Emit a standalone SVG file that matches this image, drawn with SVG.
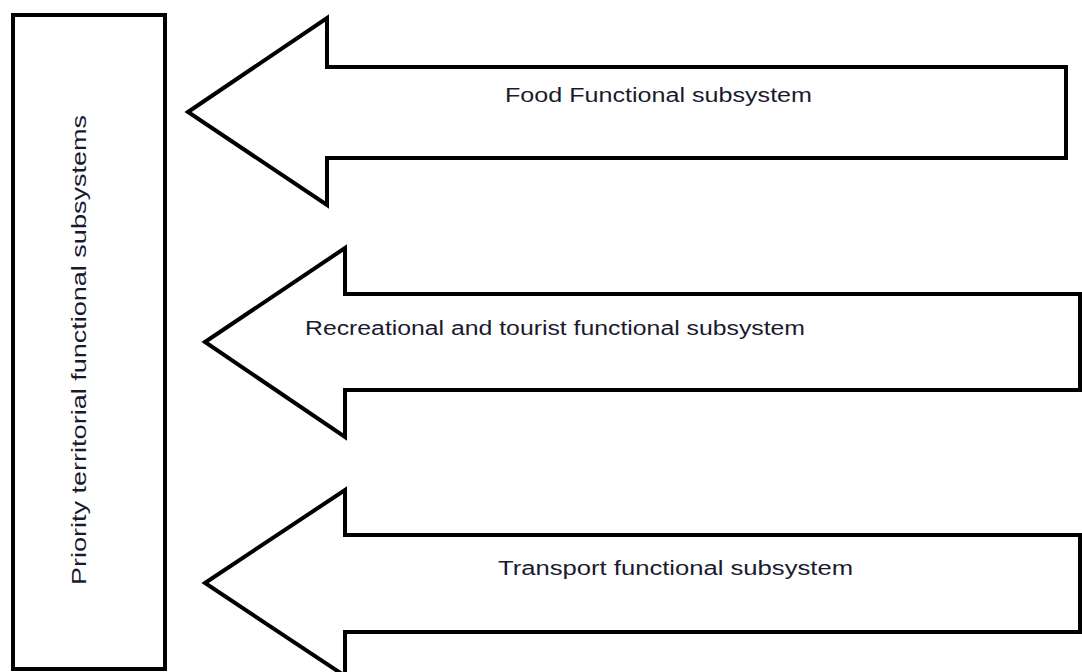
<svg xmlns="http://www.w3.org/2000/svg" width="1082" height="672" viewBox="0 0 1082 672">
<style>
.shape{fill:#fff;stroke:#000;stroke-width:4;stroke-linejoin:miter}
.lbl{font-family:"Liberation Sans",Arial,sans-serif;font-size:20px;fill:#1a1a2e}
</style>
<rect width="1082" height="672" fill="#fff"/>
<g id="target">
<rect class="shape" x="13" y="15" width="152" height="654"/>
<text class="lbl" transform="translate(86,585) rotate(-90)" textLength="470" lengthAdjust="spacingAndGlyphs">Priority territorial functional subsystems</text>
</g>
<g id="connectors">
<g id="arrow-food">
<polygon class="shape" points="188,112 327,18 327,67 1066,67 1066,158 327,158 327,205"/>
<text class="lbl" x="505" y="102" textLength="307" lengthAdjust="spacingAndGlyphs">Food Functional subsystem</text>
</g>
<g id="arrow-recreational">
<polygon class="shape" points="205,342 345,248 345,294 1080,294 1080,390 345,390 345,437"/>
<text class="lbl" x="305" y="335" textLength="500" lengthAdjust="spacingAndGlyphs">Recreational and tourist functional subsystem</text>
</g>
<g id="arrow-transport">
<polygon class="shape" points="205,583 345,490 345,535 1080,535 1080,632 345,632 345,676"/>
<text class="lbl" x="498" y="575" textLength="355" lengthAdjust="spacingAndGlyphs">Transport functional subsystem</text>
</g>
</g>
</svg>
